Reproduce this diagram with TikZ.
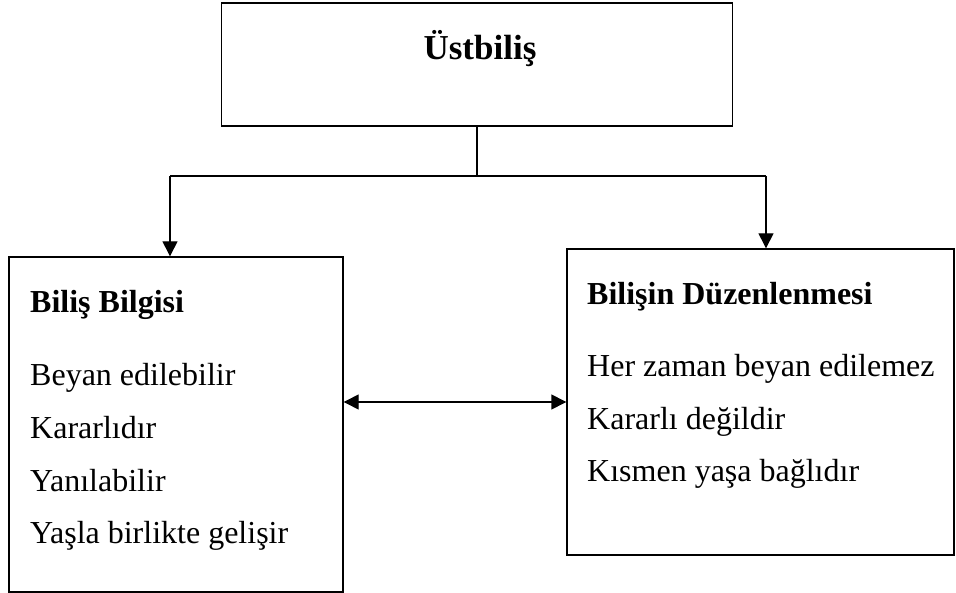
\documentclass[tikz,border=0pt]{standalone}
\usepackage{fontspec}
\setmainfont{Liberation Serif}
\usetikzlibrary{arrows.meta, positioning}

\begin{document}
\begin{tikzpicture}[
    x=1pt, y=-1pt,
    box/.style={draw, line width=1.4pt, minimum width=#1, inner sep=0pt},
    head/.style={font=\fontsize{32}{38}\selectfont\bfseries, inner sep=0pt},
    item/.style={font=\fontsize{32}{38}\selectfont, inner sep=0pt, anchor=base west},
    arr/.style={-{Triangle[length=15pt, width=15pt]}, line width=1.4pt},
    dbl/.style={{Triangle[length=15pt, width=15pt]}-{Triangle[length=15pt, width=15pt]}, line width=1.4pt},
    link/.style={line width=1.4pt},
  ]
    \useasboundingbox (0,0) rectangle (956,593);

    % top box
    \node[box=511pt, minimum height=123pt] (ust) at (477,64.5) {};
    \node[head, font=\fontsize{35}{40}\selectfont\bfseries, anchor=base] (ust-t) at (480,60) {Üstbiliş};

    % left box
    \node[box=334pt, minimum height=335pt] (bilgi) at (176,424.5) {};
    \node[head, anchor=base west] (bilgi-t) at (30,313) {Biliş Bilgisi};
    \foreach \txt [count=\i] in {Beyan edilebilir, Kararlıdır, Yanılabilir, Yaşla birlikte gelişir}
      \node[item] (bilgi-\i) at (30,{386+52.5*(\i-1)}) {\txt};

    % right box
    \node[box=387pt, minimum height=306pt] (duzen) at (760.5,402) {};
    \node[head, anchor=base west] (duzen-t) at (587,305) {Bilişin Düzenlenmesi};
    \foreach \txt [count=\i] in {Her zaman beyan edilemez, Kararlı değildir, Kısmen yaşa bağlıdır}
      \node[item] (duzen-\i) at (587,{377+52*(\i-1)}) {\txt};

    % connectors
    \coordinate (split) at (477,176);
    \coordinate (lt) at (170,176);
    \coordinate (rt) at (766,176);
    \draw[link] (ust.south) -- (split);
    \draw[link] (lt) -- (rt);
    \draw[arr] (lt) -- (lt |- bilgi.north);
    \draw[arr] (rt) -- (rt |- duzen.north);
    \draw[dbl] (bilgi.east |- 0,402) -- (duzen.west |- 0,402);
\end{tikzpicture}
\end{document}
